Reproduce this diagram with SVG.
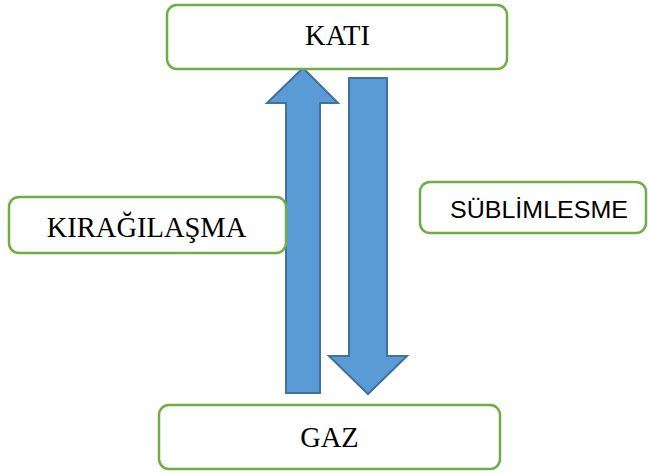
<svg xmlns="http://www.w3.org/2000/svg" width="648" height="475" viewBox="0 0 648 475">
<style>
.box{fill:#fff;stroke:#70AD47;stroke-width:2.5}
.arr{fill:#5B9BD5;stroke:#41719C;stroke-width:2;stroke-linejoin:miter}
.serif{font-family:"Liberation Serif","Times New Roman",serif;font-size:28.5px;fill:#000;text-anchor:middle}
.sans{font-family:"Liberation Sans",Arial,sans-serif;font-size:23px;fill:#000;text-anchor:middle}
</style>
<rect width="648" height="475" fill="#fff"/>
<g id="connectors">
<polygon class="arr" points="303,68 338,103 320,103 320,393 286,393 286,103 267,103"/>
<polygon class="arr" points="349,78 387,78 387,356 407,356 368,394 329,356 349,356"/>
</g>
<g id="kati">
<rect class="box" x="167" y="5" width="340" height="64" rx="10"/>
<text class="serif" x="337.5" y="45">KATI</text>
</g>
<g id="gaz">
<rect class="box" x="159" y="405" width="341" height="64" rx="10"/>
<text class="serif" x="329.5" y="447">GAZ</text>
</g>
<g id="kiragilasma">
<rect class="box" x="9" y="197" width="277" height="56" rx="10"/>
<text class="serif" x="146.5" y="237">KIRAĞILAŞMA</text>
</g>
<g id="sublimlesme">
<rect class="box" x="420" y="182" width="226" height="51" rx="10"/>
<text class="sans" x="539" y="218" textLength="178" lengthAdjust="spacingAndGlyphs">SÜBLİMLESME</text>
</g>
</svg>
